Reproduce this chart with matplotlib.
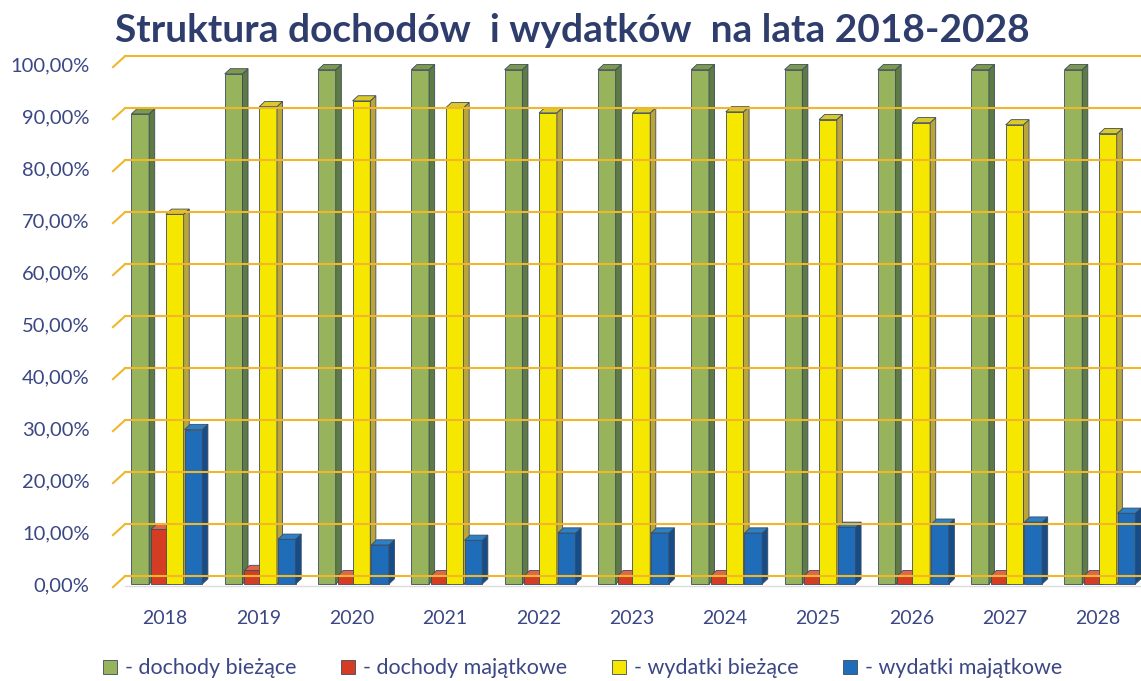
import numpy as np
import matplotlib
matplotlib.use("Agg")
import matplotlib.pyplot as plt
from matplotlib.patches import Polygon, Rectangle
from matplotlib.lines import Line2D

years = ["2018", "2019", "2020", "2021", "2022", "2023", "2024", "2025", "2026", "2027", "2028"]
dochody_biezace = [90.4, 98.1, 98.9, 98.9, 98.9, 98.9, 98.9, 98.9, 98.9, 98.9, 98.9]
dochody_majatkowe = [10.5, 2.6, 1.6, 1.6, 1.6, 1.6, 1.6, 1.6, 1.6, 1.6, 1.6]
wydatki_biezace = [71.1, 91.8, 92.9, 91.6, 90.6, 90.6, 90.8, 89.3, 88.7, 88.3, 86.6]
wydatki_majatkowe = [29.7, 8.6, 7.5, 8.4, 9.8, 9.8, 9.8, 10.9, 11.5, 11.9, 13.6]

labels = ["- dochody bieżące", "- dochody majątkowe", "- wydatki bieżące", "- wydatki majątkowe"]
# front, side, top
colours = [("#97b45c", "#5e7b45", "#7d9a4c"),
           ("#d43d24", "#9a2a1a", "#e0664a"),
           ("#f6e700", "#b9a53a", "#d9c92a"),
           ("#1f6db8", "#164d89", "#2b80c6")]
edge = "#3e4a5e"
grid_col = "#f0b72c"
text_col = "#3b4784"

lefts = [-0.36, -0.15, 0.01, 0.21]
width = 0.19
dx, dy = 0.06, 1.0


def bar3d(ax, x0, w, h, front, side, top):
    ax.add_patch(Rectangle((x0, 0), w, h, fc=front, ec=edge, lw=0.6, clip_on=False))
    ax.add_patch(Polygon([(x0 + w, 0), (x0 + w + dx, dy), (x0 + w + dx, h + dy), (x0 + w, h)],
                         closed=True, fc=side, ec=edge, lw=0.6, clip_on=False))
    ax.add_patch(Polygon([(x0, h), (x0 + dx, h + dy), (x0 + w + dx, h + dy), (x0 + w, h)],
                         closed=True, fc=top, ec=edge, lw=0.6, clip_on=False))


plt.rcParams['font.family'] = ['Lato', 'DejaVu Sans']
fig = plt.figure(figsize=(11.41, 6.81), dpi=100)
ax = fig.add_axes([105 / 1141, 97 / 681, 1036 / 1141, 520 / 681])
ax.set_xlim(-0.643, 10.46)
ax.set_ylim(0, 100)

# back wall grid with slanted left edge
for v in range(0, 101, 10):
    ax.plot([-0.557, -0.429], [v - 0.6, v + 1.5], color=grid_col, lw=1.5, clip_on=False)
    ax.plot([-0.429, 10.46], [v + 1.5, v + 1.5], color=grid_col, lw=1.5, clip_on=False)
ax.plot([-0.43, 10.46], [-0.4, -0.4], color="#dcdcdc", lw=1.0, clip_on=False)

series = [dochody_biezace, dochody_majatkowe, wydatki_biezace, wydatki_majatkowe]
for i in range(len(years)):
    for s, vals in enumerate(series):
        f, sd, tp = colours[s]
        bar3d(ax, i + lefts[s], width, vals[i], f, sd, tp)

for sp in ax.spines.values():
    sp.set_visible(False)
ax.set_yticks(np.arange(0, 101, 10))
ax.set_yticklabels([f"{v:.2f}".replace(".", ",") + "%" for v in range(0, 101, 10)],
                   fontsize=14.5, color=text_col)
ax.set_xticks(range(len(years)))
ax.set_xticklabels(years, fontsize=14, color=text_col)
ax.tick_params(axis="y", length=0, pad=11)
ax.tick_params(axis="x", length=0, pad=19)

fig.text(0.502, 0.955, "Struktura dochodów  i wydatków  na lata 2018-2028",
         ha="center", va="center", fontsize=28, fontweight="bold", color="#2f3d6c")

handles = [Line2D([0], [0], marker="s", linestyle="none", markersize=9.5,
                  markerfacecolor=c[0], markeredgecolor=edge, markeredgewidth=0.6) for c in colours]
fig.legend(handles, labels, loc="center", bbox_to_anchor=(0.51, 0.019), ncol=4,
           frameon=False, fontsize=15.5, handlelength=0.8, handletextpad=0.3,
           columnspacing=2.0, labelcolor=text_col)

fig.savefig("out.png", dpi=100)
